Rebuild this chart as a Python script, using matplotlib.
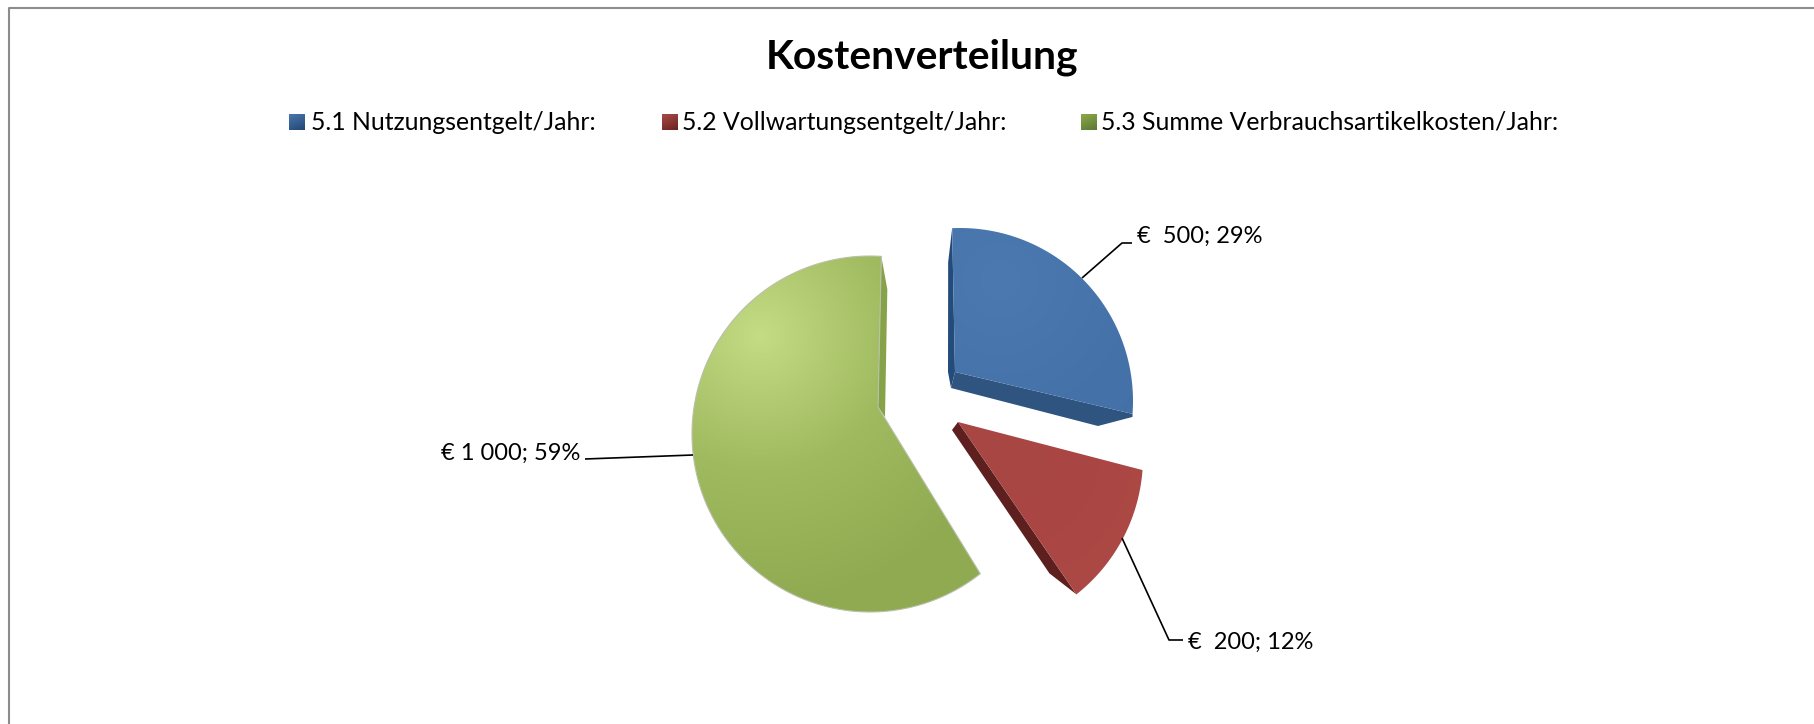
import numpy as np
import matplotlib
matplotlib.use("Agg")
import matplotlib.pyplot as plt
from matplotlib.patches import Polygon, Rectangle
from matplotlib.colors import LinearSegmentedColormap

# ---- data ----
title = "Kostenverteilung"
categories = ["5.1 Nutzungsentgelt/Jahr:", "5.2 Vollwartungsentgelt/Jahr:",
              "5.3 Summe Verbrauchsartikelkosten/Jahr:"]
values = [500, 200, 1000]
value_labels = ["€  500", "€  200", "€ 1 000"]

# ---- style / layout (pixel coordinates of the 1815x724 canvas) ----
W, H = 1815, 724
start_angle = -2.6                 # clockwise from 12 o'clock
arc_gain = [0.915, 1.12, 1.048]    # perspective foreshortening of each slice
circle_c = [(960, 401), (968, 457), (870, 434)]
radius = [173, 175, 178]
apex = [(955, 372), (958, 422), (878, 407)]
shade = {
    0: ["#4C7AB0", "#4573A9", "#4270A6"],
    1: ["#A84643", "#AA4744", "#AD4A46"],
    2: ["#C4DC84", "#A0BA60", "#8FAA50"],
}
grad_src = [(1000, 280), (1000, 450), (760, 335)]
grad_len = [260, 200, 270]
side_col = ["#234C7B", "#5E1F1F", "#87A34A"]
bottom_side = "#2F5480"
legend_swatch = [("#4A76AA", "#234878"), ("#A84A47", "#6A2321"), ("#8CA84C", "#5E7832")]
legend_x = [289, 662, 1081]
legend_text_x = [311, 682.5, 1101]
label_pos = [(1137, 243, "left"), (1188, 649, "left"), (580, 460, "right")]
leaders = [[(1082, 278), (1122, 243), (1132, 243)],
           [(1122, 538), (1169, 640), (1183, 640)],
           [(693, 455), (585, 459)]]

plt.rcParams["font.family"] = ["Lato", "DejaVu Sans"]
fig = plt.figure(figsize=(W / 100, H / 100), dpi=100, facecolor="white")
ax = fig.add_axes([0, 0, 1, 1])
ax.set_xlim(0, W)
ax.set_ylim(H, 0)
ax.axis("off")

# outer chart border (top and left only are inside the crop)
ax.plot([9, 9, W], [H, 7.5, 7.5], color="#8C8C8C", lw=1.5, zorder=1)

total = sum(values)
shares = [v / total for v in values]


def arc_points(c, r, a0, a1, n=120):
    t = np.radians(np.linspace(a0, a1, n))
    return np.column_stack([c[0] + r * np.sin(t), c[1] - r * np.cos(t)])


Y, X = np.mgrid[0:H, 0:W]
angle = start_angle
arcs = []
for i, s in enumerate(shares):
    span = s * 360 * arc_gain[i]
    pts = arc_points(circle_c[i], radius[i], angle, angle + span)
    arcs.append(pts)
    angle += span

# extrusion sides (drawn first, below the faces)
p0, p1 = arcs[0][0], arcs[0][-1]
a0 = np.array(apex[0])
ax.add_patch(Polygon([p0, p0 + (-4, 34), a0 + (-7, 0), a0 + (-4, 16), a0],
                     fc=side_col[0], ec="none", zorder=2))
ax.add_patch(Polygon([a0, a0 + (-4, 16), (1098, 426), p1 + (0, 3), p1],
                     fc=bottom_side, ec="none", zorder=2))
q1 = arcs[1][-1]
ax.add_patch(Polygon([apex[1], apex[1] + np.array((-6, 8)), q1 + (-27, -21), q1],
                     fc=side_col[1], ec="none", zorder=2))
g1 = arcs[2][-1]
ax.add_patch(Polygon([g1, g1 + (6, 33), apex[2] + np.array((7, 10)), apex[2]],
                     fc=side_col[2], ec="none", zorder=2))

# faces with gradient shading, clipped to each slice
for i, pts in enumerate(arcs):
    poly = Polygon(np.vstack([apex[i], pts]), closed=True, fc="none",
                   ec="#B9C0A8" if i == 2 else "none", lw=0.8, zorder=4)
    ax.add_patch(poly)
    d = np.hypot(X - grad_src[i][0], Y - grad_src[i][1]) / grad_len[i]
    cmap = LinearSegmentedColormap.from_list(f"s{i}", shade[i])
    im = ax.imshow(np.clip(d, 0, 1), cmap=cmap, vmin=0, vmax=1, extent=(0, W, H, 0),
                   aspect="auto", zorder=3, interpolation="bilinear")
    im.set_clip_path(poly)

# leader lines
for L in leaders:
    xs, ys = zip(*L)
    ax.plot(xs, ys, color="black", lw=1.2, zorder=5, solid_capstyle="butt")

# data labels
for i, (x, y, ha) in enumerate(label_pos):
    ax.text(x, y, f"{value_labels[i]}; {round(shares[i] * 100)}%", ha=ha, va="baseline",
            fontsize=17, color="black", zorder=6)

# title
ax.text(922, 68.5, title, ha="center", va="baseline", fontsize=29.3, fontweight="bold",
        color="black")

# legend
sw = 16
gy, gx = np.mgrid[0:1:16j, 0:1:16j]
for i, cat in enumerate(categories):
    cmap = LinearSegmentedColormap.from_list(f"k{i}", legend_swatch[i])
    ax.imshow(0.7 * gy + 0.3 * gx, cmap=cmap, vmin=0, vmax=1, aspect="auto", zorder=3,
              extent=(legend_x[i], legend_x[i] + sw, 130, 114), interpolation="bilinear")
    ax.text(legend_text_x[i], 130, cat, ha="left", va="baseline", fontsize=17.8,
            color="black")

ax.set_xlim(0, W)
ax.set_ylim(H, 0)
fig.savefig("out.png", dpi=100, facecolor="white")
